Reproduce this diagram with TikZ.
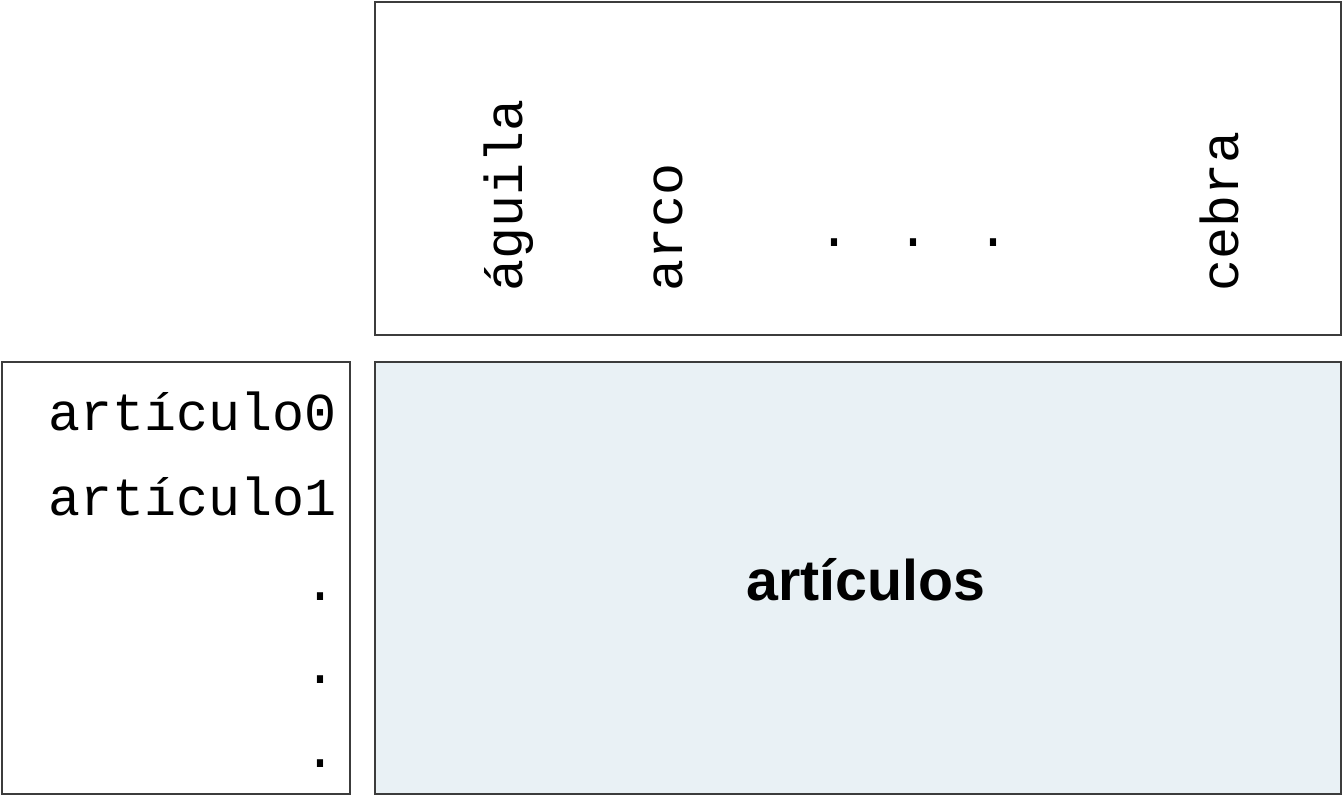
\documentclass[tikz,border=0pt]{standalone}
\usepackage{fontspec}
\usepackage{tikz}
\newfontfamily\termfont{Liberation Mono}
\newfontfamily\headfont{Liberation Sans}
\definecolor{boxline}{HTML}{3C3C3C}
\definecolor{matfill}{HTML}{E9F1F5}

\begin{document}
\begin{tikzpicture}[x=0.75pt,y=0.75pt,yscale=-1,xscale=1,
  panel/.style={draw=boxline,line width=1.1pt,inner sep=0pt},
  term/.style={inner sep=0pt,font=\termfont\fontsize{40}{40}\selectfont},
  vterm/.style={term,anchor=base west,rotate=90}]
\useasboundingbox (0,0) rectangle (1344,796);

% Box Node
\node [panel,minimum width=966*0.75pt,minimum height=333*0.75pt] (vocab) at (858,168.5) {};
% Box Node
\node [panel,minimum width=348*0.75pt,minimum height=432*0.75pt] (docs) at (176,578) {};
% Box Node
\node [panel,fill=matfill,minimum width=966*0.75pt,minimum height=432*0.75pt] (matrix) at (858,578) {};

% Text Node
\node [vterm] (w0) at (522,292) {águila};
% Text Node
\node [vterm] (w1) at (682,292) {arco};
% Text Node
\node [term,anchor=base] (wd0) at (834,246) {.};
% Text Node
\node [term,anchor=base] (wd1) at (913,246) {.};
% Text Node
\node [term,anchor=base] (wd2) at (993,246) {.};
% Text Node
\node [vterm] (wn) at (1238,292) {cebra};

% Text Node
\node [term,anchor=base east] (d0) at (337,430) {artículo0};
% Text Node
\node [term,anchor=base east] (d1) at (337,515) {artículo1};
% Text Node
\node [term,anchor=base east] (dd0) at (337,600) {.};
% Text Node
\node [term,anchor=base east] (dd1) at (337,683) {.};
% Text Node
\node [term,anchor=base east] (dd2) at (337,767) {.};

% Text Node
\node [inner sep=0pt,anchor=base,font=\headfont\bfseries\fontsize{43}{43}\selectfont] (title) at (866,600) {artículos};

\end{tikzpicture}
\end{document}
